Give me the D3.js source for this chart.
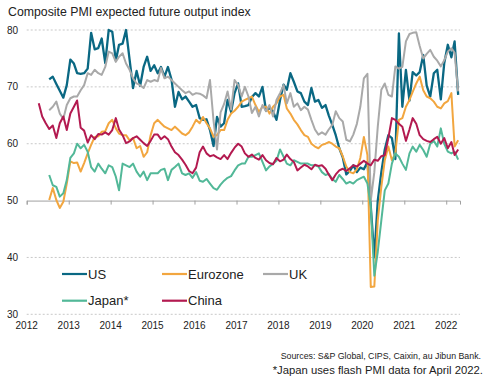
<!DOCTYPE html>
<html><head><meta charset="utf-8">
<script src="https://cdn.jsdelivr.net/npm/d3@7"></script>
<style>body{margin:0;background:#fff;} svg{display:block;font-family:"Liberation Sans",Arial,sans-serif;}</style>
</head><body><svg id="c" width="490" height="384"></svg>
<script>
// ---- data ----
const seriesNames = ["US", "Eurozone", "UK", "Japan*", "China"];
const seriesColors = ["#0a6883", "#f2a63f", "#a9a9a9", "#52b898", "#b31a50"];
const seriesStart = ["2012-07", "2012-07", "2012-07", "2012-07", "2012-04"];

const usValues = [71.3,71.8,70.5,69.3,68.1,70.3,
74.8,74.1,72.4,72.3,72.4,73.2,79.5,76.6,76.8,78.5,74.2,80,
79.7,74.6,77.4,77.6,80,74.8,69.8,72.8,70.2,73.5,75.3,72.8,
73.8,72.4,73.5,71.8,73.5,71.3,66.5,69.1,67.8,68.3,67.4,66.5,
66.8,64.5,64.2,64.3,62.4,59.6,64.7,63,63.6,67.7,65.6,68.9,
70.6,66.5,66.6,66.8,68.2,68.9,68.3,70,65.8,66.3,65.7,64.2,
67.7,70.4,69.5,72.4,70.9,69.2,68.9,67.4,66.8,69.8,67.4,67.7,
66.3,66.8,65,63.3,61.5,59.2,57.6,54.6,55.2,56.2,55,55.8,
55.5,56.8,49,40,50,55,59,61.5,61,57.3,79.4,66.5,
73,67.6,72.6,72,72.6,75.6,70.2,68.3,72.4,73,67.8,74.2,
77.4,75.2,78,68.6];

const eurozoneValues = [50.1,52.2,50.1,48.7,49.8,53,
56.9,56.6,56.7,55.1,56.6,58.3,59.8,61.2,61.3,62.1,62.2,63.6,
64.2,62.7,61.8,61.5,61.5,60.6,61,59.2,59.6,57.7,58.5,61.5,
63.6,64.2,63.6,63,62.7,62.4,63,62.4,61.8,61.5,62,63,
64.2,63.6,64.7,63.6,62.7,61.2,61.5,62.4,62.4,64.2,65.3,65.8,
66.5,67.4,67.7,68,68.3,66.8,65.6,66.5,66.5,65.3,66.5,67.1,
68.3,68.6,66.2,65.3,64.2,63.4,62.4,61.5,61.2,60,59.5,59.2,
59.8,60,60.3,60,59.5,59.2,57.8,56,55,54.8,55.5,57.5,
61.2,58,34.8,34.9,46.5,52.4,57.1,59.5,57.1,58.3,64.2,64.5,
66.5,67.7,69.1,70.6,71.8,69.4,68.3,68,67.4,66.5,66.2,67.1,
67.5,68.9,59.5,60.6];

const ukValues = [65.9,66.5,67.4,65.3,64.4,66.8,
68,68.3,68.3,69.4,70.3,72.4,72.1,73,72.4,72.1,73.5,76.2,
75.9,74.4,75.3,75.9,74.1,73,71.5,70.6,70.3,69.8,71.2,70.9,
71.2,71,73.3,71.5,71.8,71.2,70.6,70,69.4,68.9,69.2,68.6,
68.9,68.8,68.5,68,71.2,64,59,65.5,67,69.2,66,71.2,
70.3,68.3,70,68.3,65.4,66.5,64.8,66.8,65.7,66.8,64.8,67.7,
68.9,70.3,67.1,68.9,66.5,67.1,65.9,66.5,66,64.2,62.5,61.6,
62,61.6,62.5,63.3,65.7,64.5,63.9,60.7,60.4,61.6,63.5,66.5,
71.5,72.3,50,55,63,69.5,70.6,68.6,68.3,73.6,73.2,73.5,
78,79.3,79.5,79.6,77.2,75,75.8,76.5,75.3,74.6,73.6,74.7,
76.2,76.8,76,69.2];

const japanValues = [54.5,52.7,52.4,50.7,51.3,53.6,
57.5,58.3,60,59.2,59.8,58.6,55.9,55.1,56.5,55.6,54.8,56.2,
55.9,54.2,51.8,56.5,56.2,55.9,56.5,55.1,54.2,55.1,53.6,54.8,
54.8,54.8,55.4,55.6,53.6,55.4,55.9,56.5,54.8,54.5,54.8,54,
55,53.5,53.3,53.8,53,52.2,51.9,52.8,53.5,54,54.3,55.3,
56.2,56.5,56.5,57.7,57.7,58,58.3,56.8,55.3,56,56.5,57,
59,57.7,56.5,56.2,57.1,56.8,56.5,56.5,56.5,56.2,56.2,56,
55,54.5,54.7,53.8,53.3,54.5,53.8,53,53.3,53,53.6,53.9,
54.2,53,49,36.8,41,46.5,51.8,53,56.5,58.3,57.7,56.5,
55.4,58.3,59.5,58.6,59.8,58.9,57.7,60,60.5,59.5,62.7,60,
58.6,58.3,58.6,57.2];

const chinaValues = [67.1,64.8,63.6,62.6,63.2,61,63.6,64.8,62.4,
65.3,66.5,67.6,62.8,62.3,60.2,61.5,60.8,61.7,61.6,62,61.6,
62.4,64.5,62.5,61.5,60.1,60.4,61,61.3,60.7,60.1,59.6,60.5,
61.6,61.6,60.8,61.3,60.8,59.5,58.5,58,57.2,56.3,55.2,54.8,
55.8,58.5,59.5,58.3,57.8,58,57.6,57.3,58,57.3,58.4,59.3,
60,59.5,58.3,57.7,58.1,57.5,57.2,58,57.1,56.6,56.4,57.5,
56.9,57.2,58.1,57.3,56.8,55.3,55.8,56.3,56,55.5,56.3,56.1,
56.2,55.6,54.6,53.6,54.6,55.3,55.6,55.2,55.7,56.2,56,56.5,
57,56.5,56.2,57.2,57,57.8,58,61,64.5,64.2,63.5,63,
60.5,62.5,64.5,63.5,61.5,60.8,60.5,60.3,60.8,61.2,60,61,
59.2,60.3,58,59];

const seriesValues = [usValues, eurozoneValues, ukValues, japanValues, chinaValues];
const yTicks = [30, 40, 50, 60, 70, 80];
const xTickYears = [2012,2013,2014,2015,2016,2017,2018,2019,2020,2021,2022];
const titleText = "Composite PMI expected future output index";
const sourceText = "Sources: S&P Global, CIPS, Caixin, au Jibun Bank.";
const noteText = "*Japan uses flash PMI data for April 2022.";

// ---- chart ----
const svg = d3.select("#c");
const x = d3.scaleTime().domain([new Date(2012,0,1), new Date(2022,4,1)]).range([26.7, 460]);
const y = d3.scaleLinear().domain([30, 80]).range([314.3, 30]);

svg.append("text").attr("x", 8).attr("y", 16).attr("font-size", 12.3).attr("fill", "#222").text(titleText);

// gridlines
svg.append("g").selectAll("line").data(yTicks.filter(d => d !== 50)).join("line")
  .attr("x1", 26.7).attr("x2", 460).attr("y1", d => y(d)).attr("y2", d => y(d))
  .attr("stroke", "#c8c8c8").attr("stroke-width", 1).attr("stroke-dasharray", "2,2");

// y labels
svg.append("g").selectAll("text").data(yTicks).join("text")
  .attr("x", 18).attr("y", d => y(d)).attr("dy", "0.35em").attr("text-anchor", "end")
  .attr("font-size", 10).attr("fill", "#222").text(d => d);

// x axis at 50
const xAxis = d3.axisBottom(x).tickValues(xTickYears.map(yr => new Date(yr,0,1)))
  .tickSize(4).tickFormat("");
const gx = svg.append("g").attr("transform", `translate(0,${y(50)})`).call(xAxis);
gx.select(".domain").attr("stroke", "#a0a0a0");
gx.selectAll(".tick line").attr("stroke", "#a0a0a0");

// x labels at bottom
svg.append("g").selectAll("text").data(xTickYears).join("text")
  .attr("x", d => x(new Date(d,0,1))).attr("y", 329).attr("text-anchor", "middle")
  .attr("font-size", 10).attr("fill", "#222").text(d => d);

// lines
const line = d3.line().x(d => x(d.date)).y(d => y(d.v));
seriesNames.forEach((name, i) => {
  const [sy, sm] = seriesStart[i].split("-").map(Number);
  const pts = seriesValues[i].map((v, k) => ({date: new Date(sy, sm - 1 + k, 15), v}));
  svg.append("path").datum(pts).attr("d", line).attr("fill", "none")
    .attr("stroke", seriesColors[i]).attr("stroke-width", i === 0 ? 2.3 : 2)
    .attr("stroke-linejoin", "round");
});

// legend
const legendPos = [[62,274],[162,274],[263,274],[62,300.7],[162,300.7]];
seriesNames.forEach((name, i) => {
  const [lx, ly] = legendPos[i];
  svg.append("line").attr("x1", lx).attr("x2", lx + 25).attr("y1", ly).attr("y2", ly)
    .attr("stroke", seriesColors[i]).attr("stroke-width", 2.2);
  svg.append("text").attr("x", lx + 26).attr("y", ly).attr("dy", "0.36em")
    .attr("font-size", 13).attr("fill", "#222").text(name);
});

svg.append("text").attr("x", 481).attr("y", 359).attr("text-anchor", "end")
  .attr("font-size", 8.8).attr("fill", "#222").text(sourceText);
svg.append("text").attr("x", 483).attr("y", 374).attr("text-anchor", "end")
  .attr("font-size", 11.3).attr("fill", "#222").text(noteText);
</script></body></html>
